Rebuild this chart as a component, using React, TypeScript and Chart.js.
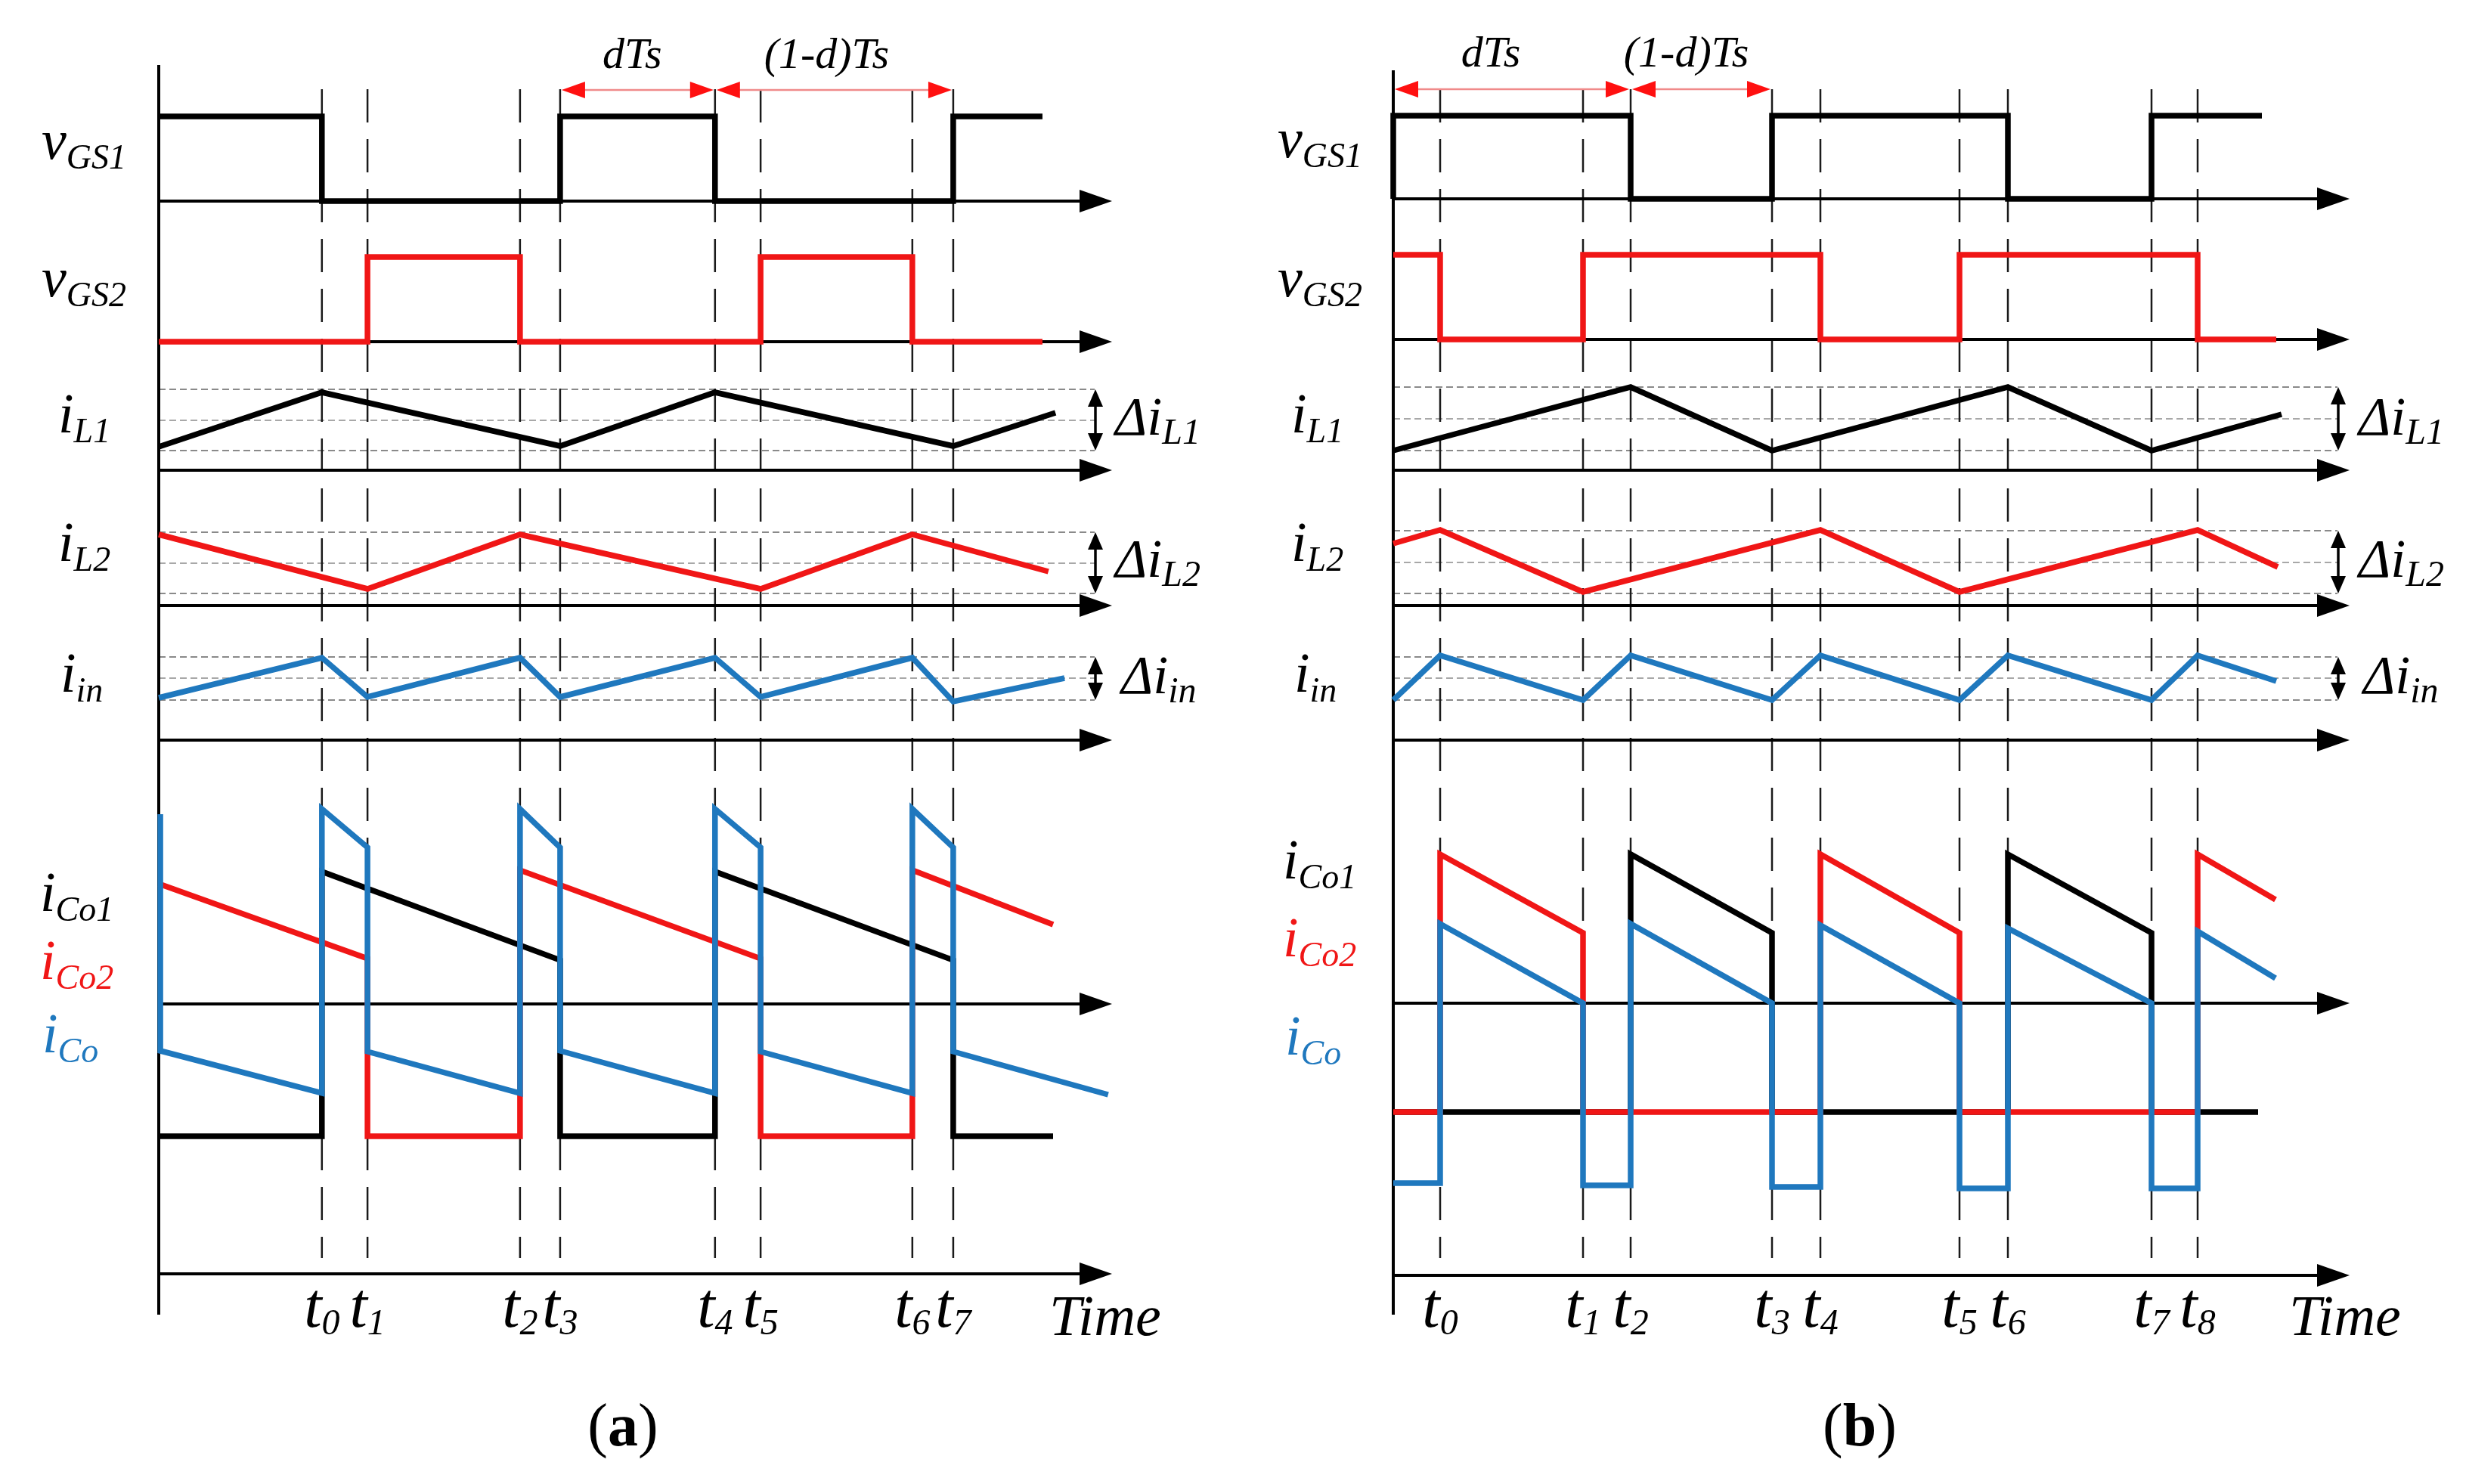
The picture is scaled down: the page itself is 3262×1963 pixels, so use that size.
import { useEffect, useRef } from "react";
import { Chart, registerables } from "chart.js";
Chart.register(...registerables);

type P = [number, number];

const W = 3262;
const H = 1963;
const RED = "#f01616";
const BLUE = "#1f78be";
const BLACK = "#000000";
const SERIF = '"Liberation Serif", "Times New Roman", serif';

// ================= Panel (a) — time in µs, values in normalised units =================
const A_TIMES = [4.15, 5.31, 9.19, 10.21, 14.15, 15.31, 19.17, 20.21]; // t0..t7
const A_VGS1: P[] = [[0, 1], [4.15, 1], [4.15, 0], [10.21, 0], [10.21, 1], [14.15, 1], [14.15, 0], [20.21, 0], [20.21, 1], [22.48, 1]];
const A_VGS2: P[] = [[0, 0], [5.31, 0], [5.31, 1], [9.19, 1], [9.19, 0], [15.31, 0], [15.31, 1], [19.17, 1], [19.17, 0], [22.48, 0]];
const A_IL1: P[] = [[0, 0.31], [4.15, 1.03], [10.21, 0.32], [14.15, 1.03], [20.21, 0.32], [22.81, 0.76]];
const A_IL2: P[] = [[0, 0.94], [5.31, 0.22], [9.19, 0.94], [15.31, 0.22], [19.17, 0.94], [22.63, 0.45]];
const A_IIN: P[] = [[0, 0.56], [4.15, 1.09], [5.31, 0.57], [9.19, 1.09], [10.21, 0.57], [14.15, 1.09], [15.31, 0.57], [19.17, 1.09], [20.21, 0.51], [23.04, 0.82]];
const A_ICO1: P[] = [[0, -1.75], [4.15, -1.75], [4.15, 1.75], [10.21, 0.58], [10.21, -1.75], [14.15, -1.75], [14.15, 1.75], [20.21, 0.58], [20.21, -1.75], [22.75, -1.75]];
const A_ICO2: P[] = [[0, 1.59], [5.31, 0.6], [5.31, -1.75], [9.19, -1.75], [9.19, 1.77], [15.31, 0.6], [15.31, -1.75], [19.17, -1.75], [19.17, 1.77], [22.75, 1.05]];
const A_ICO: P[] = [[0.04, 2.51], [0.04, -0.62], [4.15, -1.18], [4.15, 2.58], [5.31, 2.07], [5.31, -0.63], [9.19, -1.18], [9.19, 2.58], [10.21, 2.07], [10.21, -0.62], [14.15, -1.18], [14.15, 2.58], [15.31, 2.07], [15.31, -0.63], [19.17, -1.18], [19.17, 2.58], [20.21, 2.07], [20.21, -0.63], [24.15, -1.2]];
const A_IL1_LEVELS = [1.07, 0.66, 0.26];
const A_IL2_LEVELS = [0.97, 0.56, 0.16];
const A_IIN_LEVELS = [1.1, 0.82, 0.53];
const A_DIM = [10.21, 14.15, 20.21]; // dTs: t3→t4, (1-d)Ts: t4→t7

// ================= Panel (b) =================
const B_TIMES = [1.24, 5.02, 6.28, 10.02, 11.3, 14.98, 16.26, 20.06, 21.28]; // t0..t8
const B_VGS1: P[] = [[0, 0], [0, 1], [6.28, 1], [6.28, 0], [10.02, 0], [10.02, 1], [16.26, 1], [16.26, 0], [20.06, 0], [20.06, 1], [22.98, 1]];
const B_VGS2: P[] = [[0, 1], [1.24, 1], [1.24, 0], [5.02, 0], [5.02, 1], [11.3, 1], [11.3, 0], [14.98, 0], [14.98, 1], [21.28, 1], [21.28, 0], [23.36, 0]];
const B_IL1: P[] = [[0, 0.26], [6.28, 1.1], [10.02, 0.26], [16.26, 1.1], [20.06, 0.26], [23.5, 0.74]];
const B_IL2: P[] = [[0, 0.82], [1.24, 1.0], [5.02, 0.18], [11.3, 1.0], [14.98, 0.18], [21.28, 1.0], [23.4, 0.51]];
const B_IIN: P[] = [[0, 0.53], [1.24, 1.12], [5.02, 0.53], [6.28, 1.12], [10.02, 0.53], [11.3, 1.12], [14.98, 0.53], [16.26, 1.12], [20.06, 0.53], [21.28, 1.12], [23.36, 0.78]];
const B_ICO1: P[] = [[0, -1.44], [6.28, -1.44], [6.28, 1.97], [10.02, 0.93], [10.02, -1.44], [16.26, -1.44], [16.26, 1.97], [20.06, 0.93], [20.06, -1.44], [22.88, -1.44]];
const B_ICO2: P[] = [[0, -1.44], [1.24, -1.44], [1.24, 1.97], [5.02, 0.93], [5.02, -1.44], [11.3, -1.44], [11.3, 1.97], [14.98, 0.93], [14.98, -1.44], [21.28, -1.44], [21.28, 1.97], [23.34, 1.37]];
const B_ICO: P[] = [[0, -2.38], [1.24, -2.38], [1.24, 1.05], [5.02, 0], [5.02, -2.41], [6.28, -2.41], [6.28, 1.05], [10.02, 0], [10.02, -2.43], [11.3, -2.43], [11.3, 1.03], [14.98, 0], [14.98, -2.45], [16.26, -2.45], [16.26, 0.99], [20.06, 0], [20.06, -2.45], [21.28, -2.45], [21.28, 0.95], [23.34, 0.33]];
const B_IL1_LEVELS = [1.1, 0.68, 0.26];
const B_IL2_LEVELS = [0.99, 0.57, 0.16];
const B_IIN_LEVELS = [1.1, 0.82, 0.53];
const B_DIM = [0, 6.28, 10.02]; // dTs: 0→t2, (1-d)Ts: t2→t3

// ================= Texts =================
const ROW_LABELS: [string, string][] = [["v", "GS1"], ["v", "GS2"], ["i", "L1"], ["i", "L2"], ["i", "in"], ["i", "Co1"], ["i", "Co2"], ["i", "Co"]];
const ROW_LABEL_COLORS = [BLACK, BLACK, BLACK, BLACK, BLACK, BLACK, RED, BLUE];
const DELTA_LABELS: [string, string][] = [["Δi", "L1"], ["Δi", "L2"], ["Δi", "in"]];
const DIM_LABELS = ["dTs", "(1-d)Ts"];
const TIME_WORD = "Time";
const CAPTIONS = ["a", "b"];

// ================= Layout (pixel geometry only) =================
type RowGeo = { axis: number; k: number };
type PanelLayout = {
  xId: string; originPx: number; pxPerUnit: number; axisEnd: number;
  rows: Record<string, RowGeo>;
  timeAxisY: number; vAxisTop: number; vAxisBottom: number; dashTop: number; dashBottom: number;
  dimY: number; dimTextY: number; dimTextDx: number[]; guideRight: number; dblArrowX: number;
  deltaX: number[]; deltaY: number[];
  labelPos: [number, number][];
  timeLabelY: number; timeWordX: number; timeWordY: number; captionX: number; captionY: number;
};
const ROW_KEYS = ["vgs1", "vgs2", "il1", "il2", "iin", "ico"];

const LAYOUT: Record<string, PanelLayout> = {
  a: {
    xId: "xA", originPx: 210, pxPerUnit: 52, axisEnd: 24.25,
    rows: { vgs1: { axis: 266, k: 112 }, vgs2: { axis: 452, k: 112 }, il1: { axis: 622, k: 100 }, il2: { axis: 801, k: 100 }, iin: { axis: 979, k: 100 }, ico: { axis: 1328, k: 100 } },
    timeAxisY: 1685, vAxisTop: 86, vAxisBottom: 1739, dashTop: 118, dashBottom: 1664,
    dimY: 119, dimTextY: 90, dimTextDx: [-7, -10], guideRight: 1448, dblArrowX: 1449,
    deltaX: [1475, 1475, 1483], deltaY: [575, 763, 917],
    labelPos: [[55, 210], [55, 392], [77, 572], [77, 742], [80, 915], [53, 1205], [53, 1295], [56, 1392]],
    timeLabelY: 1755, timeWordX: 1388, timeWordY: 1766, captionX: 824, captionY: 1912,
  },
  b: {
    xId: "xB", originPx: 1843, pxPerUnit: 50, axisEnd: 25.3,
    rows: { vgs1: { axis: 263, k: 110 }, vgs2: { axis: 449, k: 112 }, il1: { axis: 622, k: 100 }, il2: { axis: 801, k: 100 }, iin: { axis: 979, k: 100 }, ico: { axis: 1327, k: 100 } },
    timeAxisY: 1687, vAxisTop: 93, vAxisBottom: 1739, dashTop: 118, dashBottom: 1664,
    dimY: 118, dimTextY: 88, dimTextDx: [-28, -20], guideRight: 3092, dblArrowX: 3093,
    deltaX: [3120, 3120, 3126], deltaY: [575, 763, 917],
    labelPos: [[1690, 208], [1690, 392], [1708, 572], [1708, 742], [1712, 915], [1697, 1162], [1697, 1265], [1700, 1395]],
    timeLabelY: 1755, timeWordX: 3028, timeWordY: 1766, captionX: 2460, captionY: 1912,
  },
};

const PANEL_DATA: Record<string, { times: number[]; dim: number[]; levels: number[][]; traces: [string, P[], string, number][] }> = {
  a: {
    times: A_TIMES, dim: A_DIM, levels: [A_IL1_LEVELS, A_IL2_LEVELS, A_IIN_LEVELS],
    traces: [["vgs1", A_VGS1, BLACK, 2], ["vgs2", A_VGS2, RED, 2], ["il1", A_IL1, BLACK, 2], ["il2", A_IL2, RED, 2], ["iin", A_IIN, BLUE, 2], ["ico", A_ICO1, BLACK, 3], ["ico", A_ICO2, RED, 2], ["ico", A_ICO, BLUE, 1]],
  },
  b: {
    times: B_TIMES, dim: B_DIM, levels: [B_IL1_LEVELS, B_IL2_LEVELS, B_IIN_LEVELS],
    traces: [["vgs1", B_VGS1, BLACK, 2], ["vgs2", B_VGS2, RED, 2], ["il1", B_IL1, BLACK, 2], ["il2", B_IL2, RED, 2], ["iin", B_IIN, BLUE, 2], ["ico", B_ICO1, BLACK, 3], ["ico", B_ICO2, RED, 2], ["ico", B_ICO, BLUE, 1]],
  },
};

function yScaleId(panel: string, row: string) {
  return `y_${panel}_${row}`;
}

function drawSub(ctx: CanvasRenderingContext2D, x: number, y: number, main: string, sub: string, color: string, mainPx: number, subPx: number, subDy: number, center = false) {
  ctx.save();
  ctx.textBaseline = "alphabetic";
  ctx.textAlign = "left";
  ctx.font = `italic ${mainPx}px ${SERIF}`;
  const w1 = ctx.measureText(main).width;
  ctx.font = `italic ${subPx}px ${SERIF}`;
  const w2 = ctx.measureText(sub).width;
  const sx = center ? x - (w1 + w2) / 2 : x;
  ctx.fillStyle = color;
  ctx.font = `italic ${mainPx}px ${SERIF}`;
  ctx.fillText(main, sx, y);
  ctx.font = `italic ${subPx}px ${SERIF}`;
  ctx.fillText(sub, sx + w1, y + subDy);
  ctx.restore();
}

function hArrow(ctx: CanvasRenderingContext2D, x1: number, x2: number, y: number) {
  ctx.save();
  ctx.strokeStyle = BLACK;
  ctx.fillStyle = BLACK;
  ctx.lineWidth = 4;
  ctx.setLineDash([]);
  ctx.beginPath();
  ctx.moveTo(x1, y);
  ctx.lineTo(x2 - 38, y);
  ctx.stroke();
  ctx.beginPath();
  ctx.moveTo(x2, y);
  ctx.lineTo(x2 - 43, y - 15);
  ctx.lineTo(x2 - 43, y + 15);
  ctx.closePath();
  ctx.fill();
  ctx.restore();
}

function vDouble(ctx: CanvasRenderingContext2D, x: number, y1: number, y2: number) {
  ctx.save();
  ctx.strokeStyle = BLACK;
  ctx.fillStyle = BLACK;
  ctx.lineWidth = 3.5;
  ctx.beginPath();
  ctx.moveTo(x, y1 + 18);
  ctx.lineTo(x, y2 - 18);
  ctx.stroke();
  ctx.beginPath();
  ctx.moveTo(x, y1);
  ctx.lineTo(x - 10, y1 + 23);
  ctx.lineTo(x + 10, y1 + 23);
  ctx.closePath();
  ctx.fill();
  ctx.beginPath();
  ctx.moveTo(x, y2);
  ctx.lineTo(x - 10, y2 - 23);
  ctx.lineTo(x + 10, y2 - 23);
  ctx.closePath();
  ctx.fill();
  ctx.restore();
}

function dimArrow(ctx: CanvasRenderingContext2D, x1: number, x2: number, y: number) {
  ctx.save();
  ctx.strokeStyle = "#f08a8a";
  ctx.lineWidth = 2.5;
  ctx.beginPath();
  ctx.moveTo(x1 + 20, y);
  ctx.lineTo(x2 - 20, y);
  ctx.stroke();
  ctx.fillStyle = "#ff1010";
  ctx.beginPath();
  ctx.moveTo(x1 + 2, y);
  ctx.lineTo(x1 + 33, y - 11);
  ctx.lineTo(x1 + 33, y + 11);
  ctx.closePath();
  ctx.fill();
  ctx.beginPath();
  ctx.moveTo(x2 - 2, y);
  ctx.lineTo(x2 - 33, y - 11);
  ctx.lineTo(x2 - 33, y + 11);
  ctx.closePath();
  ctx.fill();
  ctx.restore();
}

const diagramPlugin = {
  id: "diagram",
  beforeDatasetsDraw(chart: any) {
    const ctx: CanvasRenderingContext2D = chart.ctx;
    for (const key of ["a", "b"]) {
      const L = LAYOUT[key];
      const D = PANEL_DATA[key];
      const xs = chart.scales[L.xId];
      const X = (v: number) => xs.getPixelForValue(v);
      const x0 = X(0);
      const xTip = X(L.axisEnd);

      // grey dashed guide levels for ripple rows
      ["il1", "il2", "iin"].forEach((row, i) => {
        const ys = chart.scales[yScaleId(key, row)];
        D.levels[i].forEach((lv, j) => {
          const y = ys.getPixelForValue(lv);
          ctx.save();
          ctx.strokeStyle = j === 1 ? "#a8a8a8" : "#8a8a8a";
          ctx.lineWidth = 2;
          ctx.setLineDash([9, 5]);
          ctx.beginPath();
          ctx.moveTo(x0, y);
          ctx.lineTo(L.guideRight, y);
          ctx.stroke();
          ctx.restore();
        });
      });

      // vertical dashed switching instants
      ctx.save();
      ctx.strokeStyle = "#1a1a1a";
      ctx.lineWidth = 2.5;
      ctx.setLineDash([44, 22]);
      D.times.forEach((t) => {
        const x = X(t);
        ctx.beginPath();
        ctx.moveTo(x, L.dashTop);
        ctx.lineTo(x, L.dashBottom);
        ctx.stroke();
      });
      ctx.restore();

      // row axes
      ROW_KEYS.forEach((row) => {
        const y = chart.scales[yScaleId(key, row)].getPixelForValue(0);
        hArrow(ctx, x0, xTip, y);
      });
      hArrow(ctx, x0, xTip, L.timeAxisY);

      // vertical axis
      ctx.save();
      ctx.strokeStyle = BLACK;
      ctx.lineWidth = 4;
      ctx.beginPath();
      ctx.moveTo(x0, L.vAxisTop);
      ctx.lineTo(x0, L.vAxisBottom);
      ctx.stroke();
      ctx.restore();
    }
  },
  afterDatasetsDraw(chart: any) {
    const ctx: CanvasRenderingContext2D = chart.ctx;
    ["a", "b"].forEach((key, pi) => {
      const L = LAYOUT[key];
      const D = PANEL_DATA[key];
      const xs = chart.scales[L.xId];
      const X = (v: number) => xs.getPixelForValue(v);

      // row labels
      ROW_LABELS.forEach(([m, s], i) => {
        const [lx, ly] = L.labelPos[i];
        drawSub(ctx, lx, ly, m, s, ROW_LABEL_COLORS[i], 74, 46, 13);
      });

      // ripple double arrows and delta labels
      ["il1", "il2", "iin"].forEach((row, i) => {
        const ys = chart.scales[yScaleId(key, row)];
        const lv = D.levels[i];
        vDouble(ctx, L.dblArrowX, ys.getPixelForValue(lv[0]), ys.getPixelForValue(lv[2]));
        drawSub(ctx, L.deltaX[i], L.deltaY[i], DELTA_LABELS[i][0], DELTA_LABELS[i][1], BLACK, 72, 48, 12);
      });

      // dimension arrows
      const [d0, d1, d2] = D.dim;
      dimArrow(ctx, X(d0), X(d1), L.dimY);
      dimArrow(ctx, X(d1), X(d2), L.dimY);
      ctx.save();
      ctx.fillStyle = BLACK;
      ctx.textAlign = "center";
      ctx.textBaseline = "alphabetic";
      ctx.font = `italic 58px ${SERIF}`;
      ctx.fillText(DIM_LABELS[0], (X(d0) + X(d1)) / 2 + L.dimTextDx[0], L.dimTextY);
      ctx.fillText(DIM_LABELS[1], (X(d1) + X(d2)) / 2 + L.dimTextDx[1], L.dimTextY);
      ctx.restore();

      // time labels
      D.times.forEach((t, i) => {
        drawSub(ctx, X(t), L.timeLabelY, "t", String(i), BLACK, 84, 48, 10, true);
      });
      ctx.save();
      ctx.fillStyle = BLACK;
      ctx.textAlign = "left";
      ctx.font = `italic 76px ${SERIF}`;
      ctx.fillText(TIME_WORD, L.timeWordX, L.timeWordY);
      ctx.restore();

      // caption
      ctx.save();
      ctx.fillStyle = BLACK;
      ctx.textBaseline = "alphabetic";
      ctx.textAlign = "left";
      const fN = `80px ${SERIF}`;
      const fB = `bold 80px ${SERIF}`;
      ctx.font = fN;
      const wp = ctx.measureText("(").width;
      const wq = ctx.measureText(")").width;
      ctx.font = fB;
      const wl = ctx.measureText(CAPTIONS[pi]).width;
      let cx = L.captionX - (wp + wl + wq) / 2;
      ctx.font = fN;
      ctx.fillText("(", cx, L.captionY);
      cx += wp;
      ctx.font = fB;
      ctx.fillText(CAPTIONS[pi], cx, L.captionY);
      cx += wl;
      ctx.font = fN;
      ctx.fillText(")", cx, L.captionY);
      ctx.restore();
    });
  },
};

export default function App() {
  const ref = useRef<HTMLCanvasElement | null>(null);

  useEffect(() => {
    document.body.style.margin = "0";
    document.body.style.overflow = "hidden";
    document.body.style.background = "#ffffff";
    const canvas = ref.current;
    if (!canvas) return;

    const scales: any = {};
    const datasets: any[] = [];
    for (const key of ["a", "b"]) {
      const L = LAYOUT[key];
      scales[L.xId] = {
        type: "linear",
        display: false,
        min: -L.originPx / L.pxPerUnit,
        max: (W - L.originPx) / L.pxPerUnit,
      };
      for (const row of ROW_KEYS) {
        const g = L.rows[row];
        scales[yScaleId(key, row)] = {
          type: "linear",
          display: false,
          min: (g.axis - H) / g.k,
          max: g.axis / g.k,
        };
      }
      for (const [row, pts, color, order] of PANEL_DATA[key].traces) {
        datasets.push({
          data: pts.map(([x, y]) => ({ x, y })),
          xAxisID: L.xId,
          yAxisID: yScaleId(key, row),
          borderColor: color,
          backgroundColor: color,
          borderWidth: 7.5,
          borderJoinStyle: "miter",
          borderCapStyle: "butt",
          pointRadius: 0,
          tension: 0,
          fill: false,
          order,
        });
      }
    }

    const chart = new Chart(canvas, {
      type: "line",
      data: { datasets },
      options: {
        responsive: false,
        maintainAspectRatio: false,
        animation: false,
        devicePixelRatio: 1,
        events: [],
        layout: { padding: 0 },
        plugins: { legend: { display: false }, tooltip: { enabled: false }, title: { display: false } },
        scales,
      } as any,
      plugins: [diagramPlugin as any],
    });
    return () => chart.destroy();
  }, []);

  return (
    <canvas
      ref={ref}
      width={W}
      height={H}
      style={{ display: "block", width: `${W}px`, height: `${H}px`, background: "#fff" }}
    />
  );
}
